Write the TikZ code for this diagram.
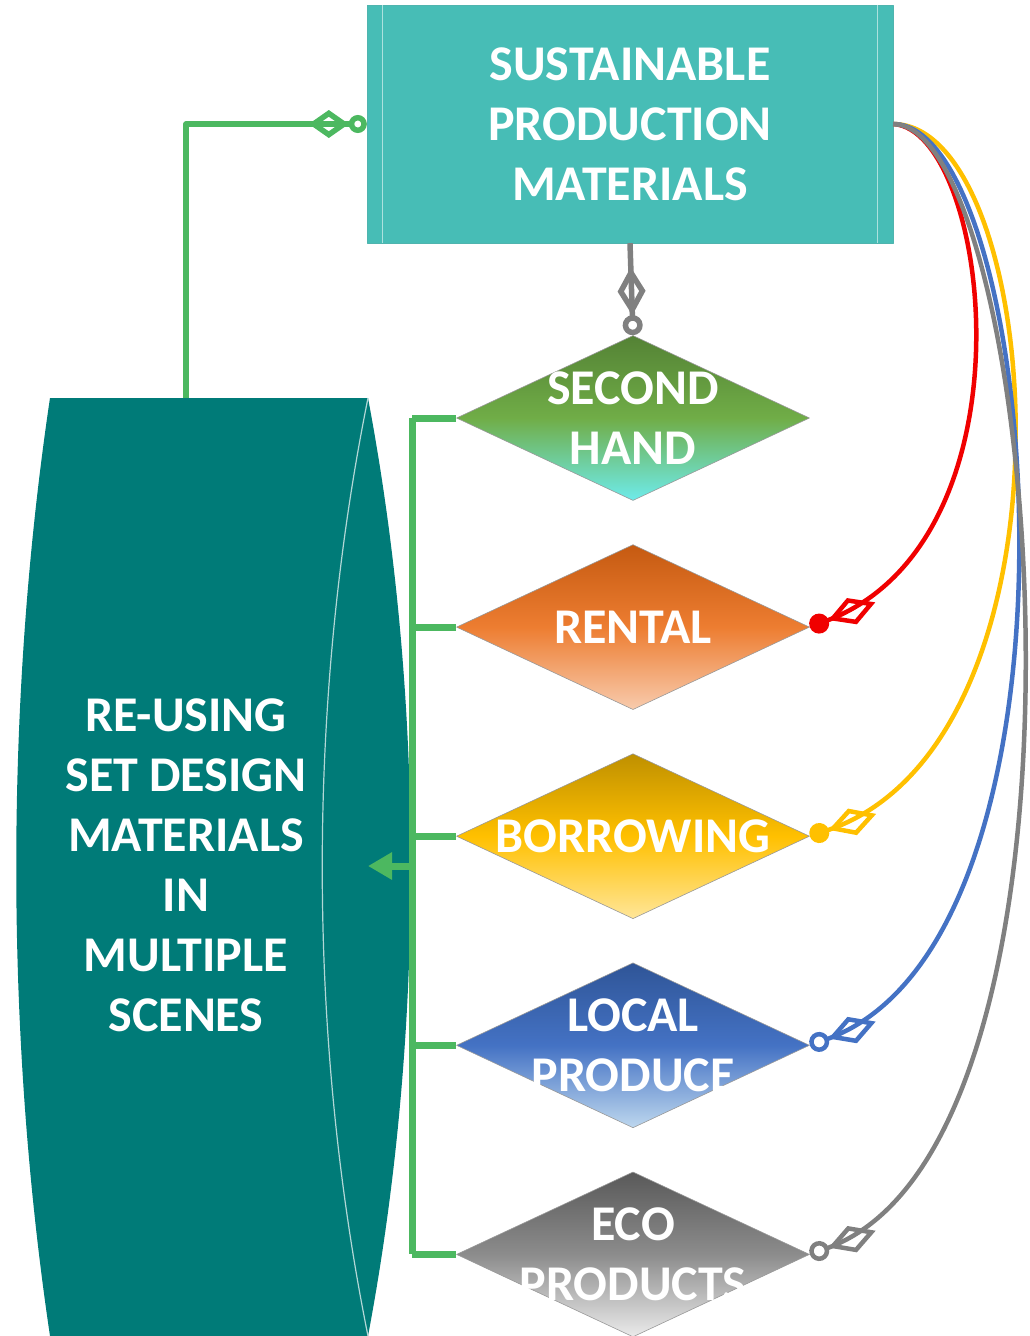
\documentclass[tikz,border=0pt]{standalone}
\usepackage{fontspec}
\setmainfont{Carlito}
\usetikzlibrary{arrows.meta,positioning,shapes.geometric}

\definecolor{spmteal}{RGB}{71,189,182}
\definecolor{reteal}{RGB}{0,123,120}
\definecolor{busgreen}{RGB}{76,184,96}
\definecolor{linkred}{RGB}{240,0,0}
\definecolor{linkgold}{RGB}{255,192,0}
\definecolor{linkblue}{RGB}{68,114,196}
\definecolor{linkgray}{RGB}{128,128,128}
\definecolor{shdark}{RGB}{84,130,53}
\definecolor{shmid}{RGB}{112,173,71}
\definecolor{shlight}{RGB}{110,235,235}
\definecolor{rentdark}{RGB}{197,90,17}
\definecolor{rentmid}{RGB}{237,125,49}
\definecolor{rentlight}{RGB}{248,203,173}
\definecolor{borrowdark}{RGB}{191,144,0}
\definecolor{borrowmid}{RGB}{255,192,0}
\definecolor{borrowlight}{RGB}{255,230,153}
\definecolor{localdark}{RGB}{47,85,151}
\definecolor{localmid}{RGB}{68,114,196}
\definecolor{locallight}{RGB}{189,215,238}
\definecolor{ecodark}{RGB}{89,89,89}
\definecolor{ecomid}{RGB}{140,140,140}
\definecolor{ecolight}{RGB}{235,235,235}

\begin{document}
\begin{tikzpicture}[x=1pt,y=-1pt,line join=round,node distance=43.5pt]
	\tikzstyle{choice}=[diamond,draw=gray!80,line width=0.6pt,minimum width=353pt,minimum height=165pt,inner sep=0pt]
	\tikzstyle{caption}=[text=white,align=center,font=\fontsize{50}{60}\selectfont\bfseries,inner sep=0pt]
	\tikzstyle{bus}=[busgreen,line width=7pt]
	\tikzstyle{link}=[line width=4.5pt,-{Diamond[open,length=50pt,width=28pt]Circle[length=20pt]}]
	\tikzstyle{openlink}=[line width=4.5pt,-{Diamond[open,length=50pt,width=28pt]Circle[open,length=20pt]}]

	\useasboundingbox (0,0) rectangle (1030,1336);

	\node[rectangle,fill=spmteal,draw=spmteal!85!gray,minimum width=526pt,minimum height=238pt] (spm) at (630,124) {};
	\draw[white!55!spmteal,line width=1pt] ([xshift=16pt]spm.north west) -- ([xshift=16pt]spm.south west);
	\draw[white!55!spmteal,line width=1pt] ([xshift=-16pt]spm.north east) -- ([xshift=-16pt]spm.south east);
	\node[caption] (spmtext) at (spm) {SUSTAINABLE\\PRODUCTION\\MATERIALS};

	\node[choice,top color=shdark,bottom color=shlight,middle color=shmid] (sh) at (633,418) {};
	\node[choice,top color=rentdark,bottom color=rentlight,middle color=rentmid] (rent) [below=of sh] {};
	\node[choice,top color=borrowdark,bottom color=borrowlight,middle color=borrowmid] (borrow) [below=of rent] {};
	\node[choice,top color=localdark,bottom color=locallight,middle color=localmid] (local) [below=of borrow] {};
	\node[choice,top color=ecodark,bottom color=ecolight,middle color=ecomid] (eco) [below=of local] {};

	\node[caption] (shtext) at (sh) {SECOND\\HAND};
	\node[caption] (renttext) at (rent) {RENTAL};
	\node[caption] (borrowtext) at (borrow) {BORROWING};
	\node[caption] (localtext) at (local) {LOCAL\\PRODUCE};
	\node[caption] (ecotext) at (eco) {ECO\\PRODUCTS};

	\fill[reteal] (50,398) .. controls (5,700) and (5,1034) .. (50,1336) -- (368,1336) .. controls (425,1034) and (425,700) .. (368,398) -- cycle;
	\draw[white!70!reteal,line width=1.2pt] (368,398) .. controls (307,700) and (307,1034) .. (368,1336);
	\node[caption] (reuse) at (186,865) {RE-USING\\SET DESIGN\\MATERIALS\\IN\\MULTIPLE\\SCENES};
	\coordinate (reusetop) at (186,398);
	\coordinate (reusein) at (368,866);
	\coordinate (busx) at (412,0);

	\draw[bus,line width=5.5pt,-{Diamond[open,length=40pt,width=28pt]Circle[open,length=18pt]}] (reusetop) |- (spm.west);

	\draw[bus] (sh.west -| busx) -- (eco.west -| busx);
	\foreach \n in {sh,rent,borrow,local,eco}
		\draw[bus] (\n.west) -- (\n.west -| busx);
	\draw[bus,-{Triangle[length=24pt,width=26pt]}] (reusein -| busx) -- (reusein);

	\draw[linkgray,line width=5.5pt,-{Diamond[open,length=48pt,width=28pt]Circle[open,length=20pt]}] (spm.south) -- (sh.north);

	\draw[link,linkred] (spm.east) .. controls (990,130) and (1040,540) .. (rent.east);
	\draw[link,linkgold] (spm.east) .. controls (1045,125) and (1090,742) .. (borrow.east);
	\draw[openlink,linkblue] (spm.east) .. controls (1040,125) and (1105,939) .. (local.east);
	\draw[openlink,linkgray] (spm.east) .. controls (1040,125) and (1122,1142) .. (eco.east);
\end{tikzpicture}
\end{document}
